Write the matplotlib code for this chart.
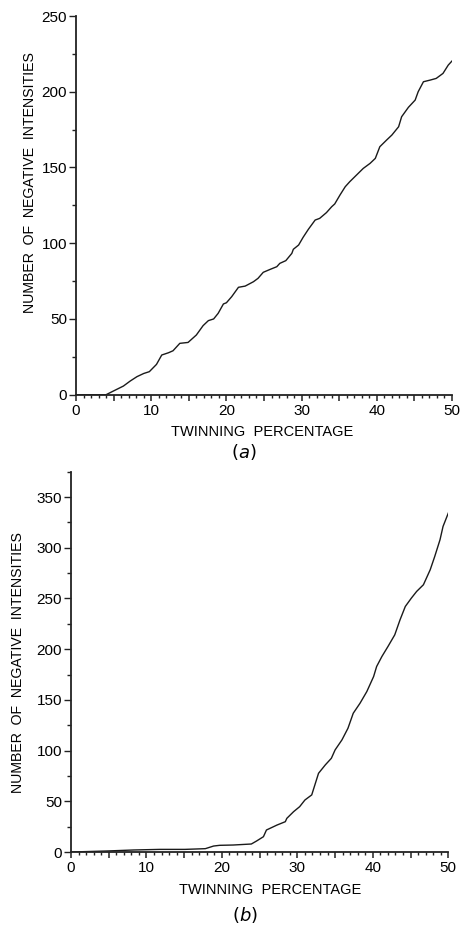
import matplotlib
matplotlib.use("Agg")
from matplotlib import pyplot as plt
from matplotlib.ticker import MultipleLocator, FuncFormatter

plt.rcParams['font.family'] = ['Liberation Sans', 'DejaVu Sans']

# (a) number of negative intensities vs twinning percentage
xa = [0, 4.0, 4.96, 6.3, 7.2, 8.1, 9.0, 9.75, 10.7, 11.4, 12.3, 12.9, 13.8, 14.9, 16.0, 16.9,
      17.6, 18.3, 18.9, 19.6, 20.0, 20.7, 21.6, 22.5, 23.6, 24.2, 24.9, 25.8, 26.7, 27.1,
      27.9, 28.7, 28.9, 29.6, 30.2, 30.9, 31.8, 32.4, 33.3, 34.0, 34.4, 35.1, 35.8, 36.4,
      37.3, 38.2, 39.1, 39.8, 40.4, 41.3, 42.0, 42.9, 43.3, 44.2, 45.1, 45.5, 46.2, 47.1,
      47.9, 48.8, 49.5, 50.0]
ya = [0, 0, 2.4, 5.7, 9, 11.9, 14, 15.2, 20, 26.2, 27.7, 29, 33.9, 34.5, 39.4, 45.6,
      48.9, 50, 53.7, 59.9, 60.7, 64.7, 70.9, 71.7, 74.6, 76.8, 80.8, 82.7, 84.5, 86.7,
      88.5, 93.3, 96, 98.8, 103.9, 109.2, 115.3, 116.4, 120.2, 124.1, 125.9, 131.8, 137.3, 140.6,
      145, 149.4, 152.7, 156, 163.7, 168.1, 171.4, 176.9, 183.5, 189.7, 194.5, 200, 206.6, 207.7,
      208.8, 212.1, 217.6, 220.3]

# (b)
xb = [0, 4.7, 8.3, 11.8, 15.1, 17.8, 18.9, 19.7, 21.5, 23.9, 24.6, 25.5, 25.9, 27.3, 28.4,
      28.6, 29.5, 30.3, 31.0, 31.9, 32.8, 33.7, 34.5, 35.0, 35.9, 36.7, 37.4, 38.3, 39.2,
      40.1, 40.5, 41.2, 42.0, 42.9, 43.6, 44.3, 45.1, 45.8, 46.7, 47.6, 48.2, 48.9, 49.3, 50.0]
yb = [0, 1, 2, 2.6, 2.6, 3.3, 5.9, 6.6, 6.9, 7.9, 10.9, 15.1, 21.7, 26.6, 29.9,
      33.2, 39.8, 44.7, 51.3, 56.3, 77.6, 85.9, 92.4, 100.7, 110.5, 122, 136.8, 146.7, 158.2,
      173, 182.9, 192.8, 202.6, 214.1, 228.9, 242.1, 250.3, 256.9, 263.5, 278.3, 291.4, 307.9, 321, 334.2]

fig = plt.figure(figsize=(4.61, 9.25), dpi=100)
ax1 = fig.add_axes([0.1649, 0.5733, 0.8156, 0.4094])
ax2 = fig.add_axes([0.154, 0.0789, 0.8185, 0.4112])


def style(ax, ymax, xlab_pos, ylab_pos):
    ax.set_xlim(0, 50)
    ax.set_ylim(0, ymax)
    for s in ['top', 'right']:
        ax.spines[s].set_visible(False)
    for s in ['left', 'bottom']:
        ax.spines[s].set_linewidth(1.3)
        ax.spines[s].set_color('#222222')
    ax.xaxis.set_major_locator(MultipleLocator(5))
    ax.xaxis.set_minor_locator(MultipleLocator(1))
    ax.xaxis.set_major_formatter(FuncFormatter(lambda v, p: '%d' % v if v % 10 == 0 else ''))
    ax.yaxis.set_major_locator(MultipleLocator(50))
    ax.yaxis.set_minor_locator(MultipleLocator(25))
    ax.tick_params(axis='x', which='major', direction='out', length=4, width=1.1, pad=2.5,
                   labelsize=11, color='#222222')
    ax.tick_params(axis='x', which='minor', direction='out', length=2.2, width=1.0, color='#222222')
    ax.tick_params(axis='y', which='major', direction='out', length=5, width=1.0, pad=1.5,
                   labelsize=11, color='#222222')
    ax.tick_params(axis='y', which='minor', direction='out', length=3, width=1.0, color='#222222')
    ax.set_xlabel('TWINNING  PERCENTAGE', fontsize=10.5, va='center')
    ax.xaxis.set_label_coords(*xlab_pos)
    ax.set_ylabel('NUMBER  OF  NEGATIVE  INTENSITIES', fontsize=10.2, va='center')
    ax.yaxis.set_label_coords(*ylab_pos)


ax1.plot(xa, ya, color='#1a1a1a', lw=1.0)
style(ax1, 250, (0.495, -0.0985), (-0.122, 0.56))
ax2.plot(xb, yb, color='#1a1a1a', lw=1.0)
style(ax2, 375, (0.527, -0.1), (-0.14, 0.497))

fig.text(244 / 461, 1 - 452 / 925, r'$($' + '$\\mathit{a}$' + r'$)$', ha='center', va='center',
         fontsize=13, family='DejaVu Serif')
fig.text(245 / 461, 1 - 915 / 925, r'$($' + '$\\mathit{b}$' + r'$)$', ha='center', va='center',
         fontsize=13, family='DejaVu Serif')

fig.savefig('out.png', dpi=100)
